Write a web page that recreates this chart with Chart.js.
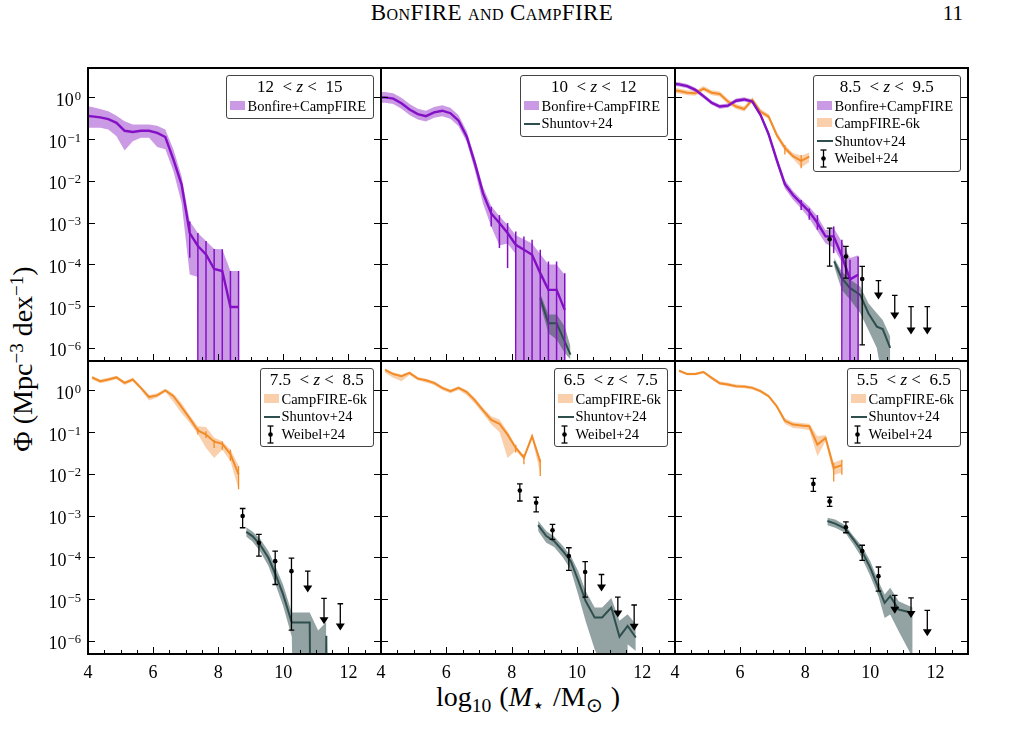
<!DOCTYPE html>
<html>
<head>
<meta charset="utf-8">
<script src="https://cdn.jsdelivr.net/npm/chart.js@4.4.1/dist/chart.umd.min.js"></script>
<style>
  body { margin: 0; background: #fff; width: 1014px; height: 742px; position: relative; overflow: hidden;
         font-family: "Liberation Serif", serif; color: #000; }
  canvas { position: absolute; }
  .txt { position: absolute; white-space: nowrap; }
  sup { font-size: 0.68em; vertical-align: 0; position: relative; top: -0.48em; }
  sub { font-size: 0.7em; vertical-align: 0; position: relative; top: 0.3em; }
  .leg { position: absolute; background: rgba(255,255,255,0.85); border: 1px solid #444; border-radius: 3px;
         box-sizing: border-box; font-size: 14.5px; padding-bottom: 3px; }
  .leg .t { height: 22px; line-height: 22px; text-align: center; font-size: 17px; }
  .leg .r { height: 17.4px; line-height: 17.4px; position: relative; padding-left: 21px; white-space: nowrap; }
  .leg .mk { position: absolute; }
</style>
</head>
<body>
<div class="txt" id="head" style="left:492px; top:0px; transform:translateX(-50%); font-size:23px; font-variant:small-caps; letter-spacing:0.4px;">BonFIRE and CampFIRE</div>
<div class="txt" style="right:51px; top:1px; font-size:21px;">11</div>
<div class="txt" id="ytitle" style="left:24px; top:359px; font-size:28px; line-height:30px; transform:translate(-50%,-50%) rotate(-90deg);">&Phi; (Mpc<sup>&minus;3</sup> dex<sup>&minus;1</sup>)</div>
<div class="txt" id="xtitle" style="left:528px; top:682px; font-size:28px; line-height:30px; word-spacing:1px; transform:translateX(-50%);">log<sub>10</sub> (<i>M</i><sub>&#8902;</sub> /M<sub>&#8857;</sub> )</div>

<script>
// stellar-mass bin centres (log10 M*/Msun)
const massBins = [3.875, 4.125, 4.375, 4.625, 4.875, 5.125, 5.375, 5.625, 5.875, 6.125, 6.375, 6.625, 6.875, 7.125, 7.375, 7.625, 7.875, 8.125, 8.375, 8.625, 8.875, 9.125, 9.375, 9.625];

// all values below are log10(Phi); -30 stands for an empty bin
// 12 < z < 15
const bonfireZ12 = [-0.44, -0.455, -0.48, -0.52, -0.61, -0.80, -0.83, -0.80, -0.80, -0.85, -0.95, -1.49, -2.09, -3.25, -3.56, -3.76, -4.11, -4.16, -5.02, -5.02];
const bonfireZ12Hi = [-0.20, -0.23, -0.28, -0.33, -0.44, -0.57, -0.65, -0.65, -0.65, -0.68, -0.77, -1.25, -1.89, -2.97, -3.25, -3.44, -3.63, -3.64, -4.16, -4.16];
const bonfireZ12Lo = [-0.72, -0.73, -0.73, -0.77, -0.93, -1.27, -1.05, -0.97, -0.97, -1.19, -1.24, -1.77, -2.53, -4.24, -4.30, -30, -30, -30, -30, -30];
const bonfireZ12ErrX = [7.125, 7.375, 7.625, 7.875, 8.125, 8.375, 8.625];
const bonfireZ12ErrHi = [-2.97, -3.25, -3.44, -3.63, -3.64, -4.16, -4.16];
const bonfireZ12ErrLo = [-3.84, -30, -30, -30, -30, -30, -30];

// 10 < z < 12
const bonfireZ10 = [0.0, 0.0, -0.03, -0.14, -0.29, -0.40, -0.45, -0.36, -0.32, -0.38, -0.56, -0.94, -1.58, -2.30, -2.78, -3.01, -3.25, -3.53, -3.65, -3.77, -4.21, -4.61, -4.61, -5.09];
const bonfireZ10Hi = [0.13, 0.13, 0.10, -0.01, -0.16, -0.27, -0.32, -0.23, -0.19, -0.25, -0.43, -0.81, -1.45, -2.15, -2.60, -2.85, -3.05, -3.30, -3.40, -3.50, -3.75, -4.00, -4.00, -4.25];
const bonfireZ10Lo = [-0.13, -0.13, -0.16, -0.27, -0.42, -0.53, -0.58, -0.49, -0.45, -0.51, -0.69, -1.07, -1.75, -2.55, -3.10, -3.55, -3.50, -3.75, -30, -30, -30, -30, -30, -30];
const bonfireZ10ErrX = [7.375, 7.625, 7.875, 8.125, 8.375, 8.625, 8.875, 9.125, 9.375, 9.625];
const bonfireZ10ErrHi = [-2.62, -2.82, -3.01, -3.21, -3.33, -3.41, -3.65, -3.93, -3.93, -4.21];
const bonfireZ10ErrLo = [-3.09, -3.61, -4.09, -30, -30, -30, -30, -30, -30, -30];
const shuntovZ10X = [8.875, 9.125, 9.375, 9.625, 9.8];
const shuntovZ10 = [-4.81, -5.41, -5.41, -5.85, -6.16];
const shuntovZ10Hi = [-4.69, -5.20, -5.20, -5.49, -5.96];
const shuntovZ10Lo = [-4.95, -5.65, -5.80, -6.12, -6.28];

// 8.5 < z < 9.5
const bonfireZ85 = [0.33, 0.31, 0.27, 0.18, 0.03, -0.13, -0.22, -0.20, -0.08, -0.05, -0.10, -0.42, -0.88, -1.50, -2.08, -2.34, -2.54, -2.74, -3.01, -3.33, -3.33, -3.80, -4.36, -4.25];
const bonfireZ85Hi = [0.38, 0.36, 0.32, 0.23, 0.08, -0.08, -0.17, -0.15, -0.03, 0.00, -0.05, -0.37, -0.80, -1.40, -1.98, -2.24, -2.44, -2.62, -2.85, -3.18, -3.13, -3.45, -3.85, -3.78];
const bonfireZ85Lo = [0.28, 0.26, 0.22, 0.13, -0.02, -0.18, -0.27, -0.25, -0.13, -0.10, -0.15, -0.47, -0.96, -1.60, -2.18, -2.45, -2.66, -2.90, -3.20, -3.50, -3.60, -3.95, -30, -30];
const bonfireZ85ErrX = [7.875, 8.125, 8.375, 8.875, 9.125, 9.375, 9.625];
const bonfireZ85ErrHi = [-2.46, -2.66, -2.82, -3.09, -3.41, -3.89, -3.81];
const bonfireZ85ErrLo = [-2.70, -2.93, -3.17, -3.73, -30, -30, -30];
const campZ85 = [0.18, 0.15, 0.11, 0.10, 0.21, 0.11, 0.08, -0.10, -0.22, -0.28, -0.06, -0.34, -0.46, -0.90, -1.21, -1.41, -1.52, -1.42];
const campZ85Hi = [0.24, 0.21, 0.17, 0.16, 0.27, 0.17, 0.14, -0.04, -0.16, -0.22, 0.00, -0.28, -0.40, -0.83, -1.14, -1.33, -1.40, -1.32];
const campZ85Lo = [0.12, 0.09, 0.05, 0.04, 0.15, 0.05, 0.02, -0.16, -0.28, -0.34, -0.12, -0.40, -0.52, -0.97, -1.28, -1.47, -1.68, -1.55];
const campZ85ErrX = [7.375, 7.875];
const campZ85ErrHi = [-1.14, -1.38];
const campZ85ErrLo = [-1.37, -1.70];
const shuntovZ85X = [8.89, 9.12, 9.38, 9.69, 9.94, 10.2, 10.38, 10.61];
const shuntovZ85 = [-3.93, -4.33, -4.57, -4.73, -5.17, -5.49, -5.55, -6.00];
const shuntovZ85Hi = [-3.85, -4.17, -4.37, -4.53, -4.93, -5.17, -5.33, -5.73];
const shuntovZ85Lo = [-4.05, -4.61, -4.85, -5.17, -5.57, -6.00, -6.80, -7.00];
const weibelZ85X = [8.75, 9.25, 9.75];
const weibelZ85 = [-3.40, -3.81, -4.35];
const weibelZ85Hi = [-3.13, -3.57, -4.05];
const weibelZ85Lo = [-4.04, -4.33, -5.93];
const weibelZ85LimX = [10.25, 10.75, 11.25, 11.75];
const weibelZ85Lim = [-4.39, -4.74, -5.01, -5.01];
const weibelZ85LimTip = [-4.84, -5.32, -5.68, -5.68];

// 7.5 < z < 8.5
const campZ75 = [null, 0.31, 0.22, 0.26, 0.31, 0.18, 0.26, 0.06, -0.16, -0.12, 0.00, -0.14, -0.40, -0.67, -0.96, -1.06, -1.23, -1.28, -1.53, -2.01];
const campZ75Hi = [null, 0.35, 0.26, 0.30, 0.35, 0.22, 0.30, 0.10, -0.11, -0.07, 0.04, -0.08, -0.30, -0.60, -0.86, -0.88, -1.13, -1.22, -1.42, -1.80];
const campZ75Lo = [null, 0.26, 0.17, 0.21, 0.27, 0.13, 0.21, 0.01, -0.24, -0.17, -0.04, -0.28, -0.55, -0.78, -1.05, -1.38, -1.62, -1.42, -1.70, -2.37];
const campZ75ErrX = [7.375, 7.625, 7.875, 8.125, 8.375, 8.625];
const campZ75ErrHi = [-0.90, -0.98, -1.18, -1.22, -1.42, -1.81];
const campZ75ErrLo = [-1.06, -1.14, -1.38, -1.42, -1.69, -2.37];
const shuntovZ75X = [8.86, 9.05, 9.28, 9.54, 9.76, 9.99, 10.26, 10.81, 11.07, 11.32, 11.57];
const shuntovZ75 = [-3.39, -3.49, -3.69, -4.01, -4.41, -4.88, -5.56, -5.56, -30, -5.88, -30];
const shuntovZ75Hi = [-3.28, -3.38, -3.55, -3.85, -4.22, -4.65, -5.32, -5.32, -5.75, -5.55, null];
const shuntovZ75Lo = [-3.50, -3.62, -3.85, -4.20, -4.65, -5.15, -5.90, -30, -30, -30, null];
const weibelZ75X = [8.75, 9.25, 9.75, 10.25];
const weibelZ75 = [-3.01, -3.65, -4.09, -4.33];
const weibelZ75Hi = [-2.83, -3.45, -3.85, -4.02];
const weibelZ75Lo = [-3.29, -3.97, -4.65, -5.74];
const weibelZ75LimX = [10.75, 11.25, 11.75];
const weibelZ75Lim = [-4.33, -4.98, -5.11];
const weibelZ75LimTip = [-4.84, -5.60, -5.75];

// 6.5 < z < 7.5
const campZ65 = [null, 0.49, 0.39, 0.34, 0.42, 0.28, 0.24, 0.18, 0.06, -0.02, 0.06, -0.04, -0.24, -0.48, -0.71, -0.80, -1.06, -1.38, -1.61, -1.10, -1.71];
const campZ65Hi = [null, 0.53, 0.43, 0.38, 0.45, 0.32, 0.28, 0.22, 0.10, 0.02, 0.10, 0.00, -0.18, -0.42, -0.62, -0.70, -0.98, -1.32, -1.56, -1.05, -1.62];
const campZ65Lo = [null, 0.42, 0.30, 0.22, 0.37, 0.24, 0.19, 0.13, 0.01, -0.07, 0.01, -0.12, -0.32, -0.56, -0.82, -1.00, -1.62, -1.44, -1.66, -1.15, -2.00];
const campZ65ErrX = [8.125, 8.375, 8.875];
const campZ65ErrHi = [-1.30, -1.53, -1.65];
const campZ65ErrLo = [-1.49, -1.77, -2.05];
const shuntovZ65X = [8.81, 9.06, 9.30, 9.57, 9.81, 10.04, 10.26, 10.54, 10.77, 11.05, 11.30, 11.55, 11.80];
const shuntovZ65 = [-3.23, -3.49, -3.61, -3.85, -4.09, -4.56, -5.04, -5.44, -5.44, -5.20, -5.90, -5.64, -5.92];
const shuntovZ65Hi = [-3.12, -3.37, -3.50, -3.73, -3.97, -4.33, -4.80, -5.20, -5.20, -4.97, -5.52, -5.36, -5.60];
const shuntovZ65Lo = [-3.37, -3.65, -3.75, -4.00, -4.30, -4.90, -5.52, -6.20, -6.60, -30, -30, -6.08, -6.24];
const weibelZ65X = [8.25, 8.75, 9.25, 9.75, 10.25];
const weibelZ65 = [-2.40, -2.69, -3.35, -3.97, -4.35];
const weibelZ65Hi = [-2.24, -2.56, -3.21, -3.77, -4.10];
const weibelZ65Lo = [-2.65, -2.91, -3.57, -4.31, -4.95];
const weibelZ65LimX = [10.75, 11.25, 11.75];
const weibelZ65Lim = [-4.41, -4.95, -5.14];
const weibelZ65LimTip = [-4.82, -5.44, -5.76];

// 5.5 < z < 6.5
const campZ55 = [null, 0.47, 0.39, 0.39, 0.44, 0.30, 0.17, 0.14, 0.10, 0.09, 0.06, -0.02, -0.14, -0.38, -0.73, -0.82, -0.84, -0.86, -1.30, -1.14, -1.86, -1.79];
const campZ55Hi = [null, 0.50, 0.42, 0.42, 0.47, 0.34, 0.21, 0.18, 0.14, 0.13, 0.10, 0.02, -0.10, -0.33, -0.67, -0.76, -0.78, -0.80, -1.10, -1.07, -1.73, -1.66];
const campZ55Lo = [null, 0.44, 0.36, 0.36, 0.41, 0.26, 0.13, 0.10, 0.06, 0.05, 0.02, -0.06, -0.18, -0.43, -0.80, -0.90, -0.92, -0.95, -1.58, -1.22, -2.03, -1.97];
const campZ55ErrX = [8.875, 9.125];
const campZ55ErrHi = [-1.74, -1.66];
const campZ55ErrLo = [-2.18, -2.02];
const shuntovZ55X = [8.68, 8.92, 9.23, 9.48, 9.74, 10.00, 10.25, 10.44, 10.61, 10.87, 11.30];
const shuntovZ55 = [-3.13, -3.19, -3.31, -3.57, -3.85, -4.25, -4.73, -5.09, -4.93, -5.25, -5.33];
const shuntovZ55Hi = [-3.05, -3.09, -3.23, -3.49, -3.73, -4.09, -4.57, -4.89, -4.73, -5.05, -5.20];
const shuntovZ55Lo = [-3.23, -3.29, -3.41, -3.69, -4.01, -4.45, -4.93, -5.45, -5.37, -5.77, -6.40];
const weibelZ55X = [8.25, 8.75, 9.25, 9.75, 10.25];
const weibelZ55 = [-2.24, -2.66, -3.28, -3.85, -4.45];
const weibelZ55Hi = [-2.11, -2.56, -3.15, -3.71, -4.23];
const weibelZ55Lo = [-2.42, -2.78, -3.41, -4.07, -4.81];
const weibelZ55LimX = [10.75, 11.25, 11.75];
const weibelZ55Lim = [-4.91, -4.97, -5.27];
const weibelZ55LimTip = [-5.35, -5.45, -5.89];

// axes
const xTickValues = [4, 6, 8, 10, 12];
const yTickExps = [0, -1, -2, -3, -4, -5, -6];
const zLow = ['12', '10', '8.5', '7.5', '6.5', '5.5'];
const zHigh = ['15', '12', '9.5', '8.5', '7.5', '6.5'];

const colors = {
  bonLine: '#8410c6', bonBand: 'rgba(140,30,195,0.45)',
  campLine: '#f28c28', campBand: 'rgba(245,150,70,0.45)',
  shLine: '#2f4f4f', shBand: 'rgba(47,79,79,0.52)'
};
const legendItems = {
  bonfire: { label: 'Bonfire+CampFIRE', kind: 'patch', color: colors.bonBand },
  camp: { label: 'CampFIRE-6k', kind: 'patch', color: colors.campBand },
  shuntov: { label: 'Shuntov+24', kind: 'line', color: colors.shLine },
  weibel: { label: 'Weibel+24', kind: 'err', color: '#000' }
};

const toPts = (xs, logs) => logs.map((v, i) => ({ x: xs[i], y: v === null ? null : Math.pow(10, v) }));

function band(xs, mid, hi, lo, line, fillColor, width, order) {
  return [
    { data: toPts(xs, hi), backgroundColor: fillColor, borderWidth: 0, pointRadius: 0, fill: '+1', order: order + 10 },
    { data: toPts(xs, lo), borderWidth: 0, pointRadius: 0, fill: false, order: order + 10 },
    { data: toPts(xs, mid), borderColor: line, borderWidth: width, pointRadius: 0, fill: false, order: order }
  ];
}
function errs(xs, hi, lo, color, width, cap) {
  return { data: toPts(xs, hi), errHi: hi, errLo: lo, errColor: color, errWidth: width, cap: cap,
           pointRadius: 0, showLine: false, order: 2 };
}
function weibel(xs, mid, hi, lo, limX, lim, tip) {
  return [
    { data: toPts(xs, mid), errHi: hi, errLo: lo, errColor: '#000', errWidth: 1.3, cap: 2.8,
      pointRadius: 2.3, pointBackgroundColor: '#000', pointBorderWidth: 0, showLine: false, order: 1 },
    { data: toPts(limX, lim), limitTip: tip, errColor: '#000', errWidth: 1.3, cap: 2.8,
      pointRadius: 0, showLine: false, order: 1 }
  ];
}
const bon = (mid, hi, lo) => band(massBins, mid, hi, lo, colors.bonLine, colors.bonBand, 2.4, 3);
const camp = (mid, hi, lo) => band(massBins, mid, hi, lo, colors.campLine, colors.campBand, 2, 4);
const shun = (xs, mid, hi, lo) => band(xs, mid, hi, lo, colors.shLine, colors.shBand, 2, 2);

const panels = [
  { legend: ['bonfire'], sets: [
      ...bon(bonfireZ12, bonfireZ12Hi, bonfireZ12Lo),
      errs(bonfireZ12ErrX, bonfireZ12ErrHi, bonfireZ12ErrLo, colors.bonLine, 1.5, 0)] },
  { legend: ['bonfire', 'shuntov'], sets: [
      ...bon(bonfireZ10, bonfireZ10Hi, bonfireZ10Lo),
      errs(bonfireZ10ErrX, bonfireZ10ErrHi, bonfireZ10ErrLo, colors.bonLine, 1.5, 0),
      ...shun(shuntovZ10X, shuntovZ10, shuntovZ10Hi, shuntovZ10Lo)] },
  { legend: ['bonfire', 'camp', 'shuntov', 'weibel'], sets: [
      ...bon(bonfireZ85, bonfireZ85Hi, bonfireZ85Lo),
      errs(bonfireZ85ErrX, bonfireZ85ErrHi, bonfireZ85ErrLo, colors.bonLine, 1.5, 0),
      ...camp(campZ85, campZ85Hi, campZ85Lo),
      errs(campZ85ErrX, campZ85ErrHi, campZ85ErrLo, colors.campLine, 1.3, 0),
      ...shun(shuntovZ85X, shuntovZ85, shuntovZ85Hi, shuntovZ85Lo),
      ...weibel(weibelZ85X, weibelZ85, weibelZ85Hi, weibelZ85Lo, weibelZ85LimX, weibelZ85Lim, weibelZ85LimTip)] },
  { legend: ['camp', 'shuntov', 'weibel'], sets: [
      ...camp(campZ75, campZ75Hi, campZ75Lo),
      errs(campZ75ErrX, campZ75ErrHi, campZ75ErrLo, colors.campLine, 1.3, 0),
      ...shun(shuntovZ75X, shuntovZ75, shuntovZ75Hi, shuntovZ75Lo),
      ...weibel(weibelZ75X, weibelZ75, weibelZ75Hi, weibelZ75Lo, weibelZ75LimX, weibelZ75Lim, weibelZ75LimTip)] },
  { legend: ['camp', 'shuntov', 'weibel'], sets: [
      ...camp(campZ65, campZ65Hi, campZ65Lo),
      errs(campZ65ErrX, campZ65ErrHi, campZ65ErrLo, colors.campLine, 1.3, 0),
      ...shun(shuntovZ65X, shuntovZ65, shuntovZ65Hi, shuntovZ65Lo),
      ...weibel(weibelZ65X, weibelZ65, weibelZ65Hi, weibelZ65Lo, weibelZ65LimX, weibelZ65Lim, weibelZ65LimTip)] },
  { legend: ['camp', 'shuntov', 'weibel'], sets: [
      ...camp(campZ55, campZ55Hi, campZ55Lo),
      errs(campZ55ErrX, campZ55ErrHi, campZ55ErrLo, colors.campLine, 1.3, 0),
      ...shun(shuntovZ55X, shuntovZ55, shuntovZ55Hi, shuntovZ55Lo),
      ...weibel(weibelZ55X, weibelZ55, weibelZ55Hi, weibelZ55Lo, weibelZ55LimX, weibelZ55Lim, weibelZ55LimTip)] }
];

// error bars and upper-limit arrows, placed through the chart scales
const errorMarks = {
  id: 'errorMarks',
  afterDatasetsDraw(chart) {
    const { ctx, chartArea: a, scales: { x, y } } = chart;
    ctx.save();
    ctx.beginPath();
    ctx.rect(a.left, a.top, a.right - a.left, a.bottom - a.top);
    ctx.clip();
    for (const ds of chart.data.datasets) {
      if (!ds.errLo && !ds.limitTip) continue;
      ctx.strokeStyle = ds.errColor;
      ctx.fillStyle = ds.errColor;
      ctx.lineWidth = ds.errWidth;
      ds.data.forEach((p, i) => {
        const px = x.getPixelForValue(p.x);
        ctx.beginPath();
        if (ds.errLo) {
          const y1 = y.getPixelForValue(Math.pow(10, ds.errHi[i]));
          const y2 = y.getPixelForValue(Math.pow(10, ds.errLo[i]));
          ctx.moveTo(px, y1); ctx.lineTo(px, y2);
          if (ds.cap) {
            ctx.moveTo(px - ds.cap, y1); ctx.lineTo(px + ds.cap, y1);
            ctx.moveTo(px - ds.cap, y2); ctx.lineTo(px + ds.cap, y2);
          }
          ctx.stroke();
        } else {
          const y1 = y.getPixelForValue(p.y);
          const y2 = y.getPixelForValue(Math.pow(10, ds.limitTip[i]));
          ctx.moveTo(px, y1); ctx.lineTo(px, y2 - 6);
          ctx.moveTo(px - ds.cap, y1); ctx.lineTo(px + ds.cap, y1);
          ctx.stroke();
          ctx.beginPath();
          ctx.moveTo(px - 4.5, y2 - 7); ctx.lineTo(px + 4.5, y2 - 7); ctx.lineTo(px, y2);
          ctx.closePath(); ctx.fill();
        }
      });
    }
    ctx.restore();
  }
};

// frame, inward ticks and 10^n labels
const frame = {
  id: 'frame',
  afterDraw(chart, args, opts) {
    const { ctx, chartArea: a, scales: { x, y } } = chart;
    ctx.save();
    ctx.strokeStyle = '#000';
    ctx.lineWidth = 1;
    ctx.beginPath();
    for (const e of yTickExps) {
      const py = Math.round(y.getPixelForValue(Math.pow(10, e))) + 0.5;
      ctx.moveTo(a.left, py); ctx.lineTo(a.left + 7, py);
      ctx.moveTo(a.right, py); ctx.lineTo(a.right - 7, py);
    }
    for (let v = 4; v < 13; v += 0.5) {
      const px = Math.round(x.getPixelForValue(v)) + 0.5;
      const len = xTickValues.includes(v) ? 7 : 4;
      ctx.moveTo(px, a.bottom); ctx.lineTo(px, a.bottom - len);
    }
    ctx.stroke();
    ctx.lineWidth = 2;
    ctx.strokeRect(a.left, a.top, a.right - a.left, a.bottom - a.top);
    if (opts.yLabels) {
      ctx.fillStyle = '#000';
      ctx.textAlign = 'right';
      ctx.textBaseline = 'alphabetic';
      for (const e of yTickExps) {
        const py = y.getPixelForValue(Math.pow(10, e));
        const ex = e === 0 ? '0' : '\u2212' + (-e);
        ctx.font = '12.6px "Liberation Serif"';
        const ew = ctx.measureText(ex).width;
        ctx.fillText(ex, a.left - 7, py + 2.5);
        ctx.font = '18px "Liberation Serif"';
        ctx.fillText('10', a.left - 8 - ew, py + 8.5);
      }
    }
    ctx.restore();
  }
};

const colLeft = [88, 381, 675], colW = [293, 294, 293];
const rowTop = [68, 361], rowH = [293, 293];
const Y_AXIS_W = 88, X_AXIS_H = 45, PAD = 4;

panels.forEach((p, k) => {
  const c = k % 3, r = Math.floor(k / 3);
  const cv = document.createElement('canvas');
  const w = Y_AXIS_W + colW[c] + PAD, h = PAD + rowH[r] + X_AXIS_H;
  cv.width = w; cv.height = h;
  cv.style.left = (colLeft[c] - Y_AXIS_W) + 'px';
  cv.style.top = (rowTop[r] - PAD) + 'px';
  cv.style.width = w + 'px'; cv.style.height = h + 'px';
  document.body.appendChild(cv);

  new Chart(cv.getContext('2d'), {
    type: 'line',
    data: { datasets: p.sets },
    options: {
      responsive: false,
      animation: false,
      devicePixelRatio: 1,
      layout: { padding: { top: PAD, right: PAD, left: 0, bottom: 0 } },
      elements: { line: { tension: 0 }, point: { radius: 0 } },
      plugins: {
        legend: { display: false },
        tooltip: { enabled: false },
        filler: { drawTime: 'beforeDatasetsDraw' },
        frame: { yLabels: c === 0 }
      },
      scales: {
        x: {
          type: 'linear', min: 4, max: 13,
          grid: { display: false }, border: { display: false },
          ticks: { display: r === 1, color: '#000', padding: 0, font: { family: 'Liberation Serif', size: 18 } },
          afterBuildTicks: s => { s.ticks = xTickValues.map(v => ({ value: v })); },
          afterFit: s => { s.height = X_AXIS_H; }
        },
        y: {
          type: 'logarithmic', min: Math.pow(10, -6.314), max: Math.pow(10, 0.703),
          grid: { display: false }, border: { display: false },
          ticks: { display: false },
          afterFit: s => { s.width = Y_AXIS_W; }
        }
      }
    },
    plugins: [errorMarks, frame]
  });

  // legend box in the upper right corner of the panel
  const leg = document.createElement('div');
  leg.className = 'leg';
  const lw = r === 0 ? 148.5 : 114.5;
  leg.style.width = lw + 'px';
  leg.style.left = (colLeft[c] + colW[c] - 7 - lw) + 'px';
  leg.style.top = (rowTop[r] + 7) + 'px';
  let html = `<div class="t">${zLow[k]}&nbsp; &lt; <i>z</i> &lt;&nbsp; ${zHigh[k]}</div>`;
  for (const key of p.legend) {
    const it = legendItems[key];
    let mk;
    if (it.kind === 'patch') mk = `<span class="mk" style="left:3px;top:3px;width:15px;height:8.5px;background:${it.color}"></span>`;
    else if (it.kind === 'line') mk = `<span class="mk" style="left:3px;top:7.5px;width:16px;height:2px;background:${it.color}"></span>`;
    else mk = `<svg class="mk" style="left:5px;top:-1px" width="9" height="19"><line x1="4.5" y1="1" x2="4.5" y2="18" stroke="#000" stroke-width="1.3"/><line x1="1.5" y1="1" x2="7.5" y2="1" stroke="#000" stroke-width="1.3"/><line x1="1.5" y1="18" x2="7.5" y2="18" stroke="#000" stroke-width="1.3"/><circle cx="4.5" cy="9.5" r="2.3" fill="#000"/></svg>`;
    html += `<div class="r">${mk}${it.label}</div>`;
  }
  leg.innerHTML = html;
  document.body.appendChild(leg);
});
</script>
</body>
</html>
